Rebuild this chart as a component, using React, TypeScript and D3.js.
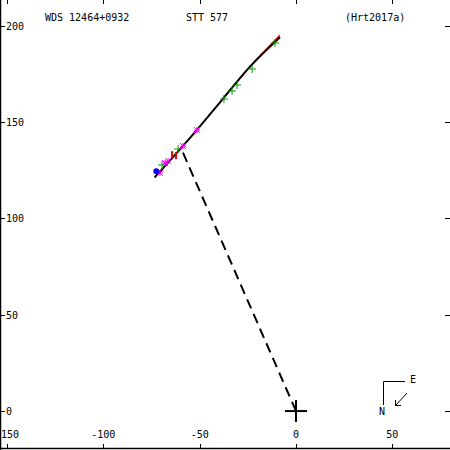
import * as d3 from 'd3';

// orbit trace
const orbitX = [-73.4, -51.5, -37.7, -23.9, -8.3];
const orbitY = [121.2, 145.8, 162.3, 178.7, 194];

const residX = [-38, -24, -9];
const residY = [162.3, 178.7, 194.5];
const redBarX = [-64.3, -62.3];
const redBarY = [132.8, 132.3];

const greenX = [-10.9, -22.8, -30.6, -33.2, -37.4, -61.2, -69.5];
const greenY = [191, 177.5, 169.2, 166.1, 161.9, 136, 127.7];

const magX = [-51.4, -58.6, -66.4, -68, -70.6];
const magY = [145.8, 137.5, 129.7, 128.7, 123.5];

const blueX = [-72.5];
const blueY = [124.5];

const periX = -59.5;
const periY = 136;

const xTicks = [-150, -100, -50, 0, 50];
const yTicks = [0, 50, 100, 150, 200];

const W = 450;
const H = 450;
const font = '"DejaVu Sans Mono", monospace';

const App = () => {
  const x = d3.scaleLinear().domain([-153.6, 79.9]).range([0, W]);
  const y = d3.scaleLinear().domain([213.3, -20.2]).range([0, H]);

  const line = d3.line<[number, number]>().x(d => x(d[0])).y(d => y(d[1])).curve(d3.curveMonotoneX);
  const orbit = orbitX.map((v, i) => [v, orbitY[i]] as [number, number]);
  const resid = residX.map((v, i) => [v, residY[i]] as [number, number]);

  return (
    <svg width={W} height={H} style={{ position: 'absolute', left: 0, top: 0, background: '#fff' }}>
      <rect x={0} y={0} width={W} height={H} fill="#fff" />
      {/* frame */}
      <line x1={0.5} y1={0} x2={0.5} y2={H} stroke="#000" strokeWidth={1.5} />
      <line x1={0} y1={448.5} x2={W} y2={448.5} stroke="#000" strokeWidth={1.5} />
      {xTicks.map(t => (
        <g key={'x' + t}>
          <line x1={Math.round(x(t)) + 0.5} x2={Math.round(x(t)) + 0.5} y1={0} y2={4} stroke="#000" />
          <line x1={Math.round(x(t)) + 0.5} x2={Math.round(x(t)) + 0.5} y1={444} y2={449} stroke="#000" />
          <text x={x(t)} y={438} textAnchor="middle" fontFamily={font} fontSize={10}>{t}</text>
        </g>
      ))}
      {yTicks.map(t => (
        <g key={'y' + t}>
          <line x1={0} x2={5} y1={Math.round(y(t)) + 0.5} y2={Math.round(y(t)) + 0.5} stroke="#000" />
          <line x1={445} x2={450} y1={Math.round(y(t)) + 0.5} y2={Math.round(y(t)) + 0.5} stroke="#000" />
          <text x={6} y={y(t) + 4} fontFamily={font} fontSize={10}>{t}</text>
        </g>
      ))}

      {/* titles */}
      <text x={45} y={21} fontFamily={font} fontSize={10}>WDS 12464+0932</text>
      <text x={186} y={21} fontFamily={font} fontSize={10}>STT 577</text>
      <text x={345} y={21} fontFamily={font} fontSize={10}>(Hrt2017a)</text>

      {/* line of apsides */}
      <line x1={x(0)} y1={y(0)} x2={x(periX)} y2={y(periY)} stroke="#000" strokeWidth={2} strokeDasharray="10,6" />

      {/* residual lines */}
      <path d={line(resid) ?? ''} fill="none" stroke="#e00000" strokeWidth={1.5} transform="translate(1.2,-1)" />

      {/* orbit */}
      <path d={line(orbit) ?? ''} fill="none" stroke="#000" strokeWidth={2} />

      {redBarX.map((v, i) => (
        <line key={'r' + i} x1={x(v)} x2={x(v)} y1={y(redBarY[i]) - 4} y2={y(redBarY[i]) + 3} stroke="#e00000" strokeWidth={2} />
      ))}

      {greenX.map((v, i) => (
        <g key={'g' + i} stroke="#00a000" strokeWidth={1}>
          <line x1={x(v) - 4} x2={x(v) + 4} y1={y(greenY[i])} y2={y(greenY[i])} />
          <line x1={x(v)} x2={x(v)} y1={y(greenY[i]) - 4} y2={y(greenY[i]) + 4} />
        </g>
      ))}
      {magX.map((v, i) => (
        <g key={'m' + i} stroke="#ff00ff" strokeWidth={1}>
          <line x1={x(v) - 3} x2={x(v) + 3} y1={y(magY[i])} y2={y(magY[i])} />
          <line x1={x(v)} x2={x(v)} y1={y(magY[i]) - 3} y2={y(magY[i]) + 3} />
          <line x1={x(v) - 3} x2={x(v) + 3} y1={y(magY[i]) - 3} y2={y(magY[i]) + 3} />
          <line x1={x(v) - 3} x2={x(v) + 3} y1={y(magY[i]) + 3} y2={y(magY[i]) - 3} />
        </g>
      ))}
      {blueX.map((v, i) => (
        <circle key={'b' + i} cx={x(v)} cy={y(blueY[i])} r={3} fill="#0000ff" />
      ))}

      {/* primary */}
      <line x1={x(0) - 11} x2={x(0) + 11} y1={y(0)} y2={y(0)} stroke="#000" strokeWidth={2} />
      <line x1={x(0)} x2={x(0)} y1={y(0) - 11} y2={y(0) + 11} stroke="#000" strokeWidth={2} />

      {/* compass */}
      <path d="M405,381.5 H383.5 V405" fill="none" stroke="#000" />
      <text x={410} y={383} fontFamily={font} fontSize={10}>E</text>
      <text x={379} y={415} fontFamily={font} fontSize={10}>N</text>
      <line x1={407} y1={393} x2={395.5} y2={405.5} stroke="#000" />
      <path d="M395.5,400 V405.5 H401" fill="none" stroke="#000" />
    </svg>
  );
};

export default App;
